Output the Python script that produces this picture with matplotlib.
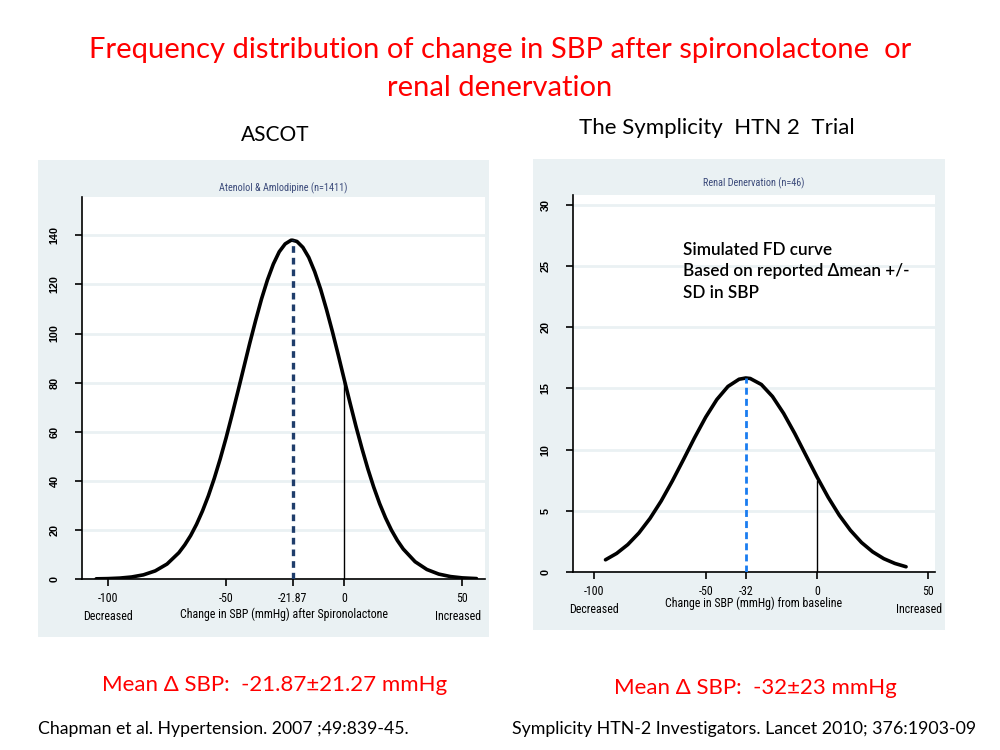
import matplotlib
matplotlib.use("Agg")
import matplotlib.pyplot as plt
from matplotlib import font_manager
from matplotlib.patches import Rectangle

# ASCOT: change in SBP (x) and frequency (y)
ascot_x = [-105, -100, -95, -90, -85, -80, -75, -70, -67.5, -65, -62.5, -60, -57.5, -55, -52.5, -50,
           -47.5, -45, -42.5, -40, -37.5, -35, -32.5, -30, -27.5, -25, -22.5, -21.87, -20, -17.5,
           -15, -12.5, -10, -7.5, -5, -2.5, 0, 2.5, 5, 7.5, 10, 12.5, 15, 17.5, 20, 22.5, 25, 30,
           35, 40, 45, 50, 56]
ascot_y = [0.07, 0.16, 0.37, 0.82, 1.69, 3.3, 6.1, 10.7, 13.9, 17.7, 22.3, 27.7, 33.9, 41.0, 48.9,
           57.5, 66.8, 76.4, 86.2, 96.0, 105.3, 114.1, 121.8, 128.3, 133.3, 136.5, 138.0, 138.0,
           137.5, 135.1, 131.0, 125.2, 118.1, 109.8, 100.8, 91.2, 81.3, 71.6, 62.1, 53.2, 44.9,
           37.4, 30.7, 24.9, 19.9, 15.7, 12.2, 7.05, 3.87, 2.01, 0.99, 0.46, 0.17]
ascot_mean = -21.87
ascot_peak = 138.0
ascot_at_zero = 81.3

# Symplicity HTN-2: simulated curve
htn_x = [-95, -90, -85, -80, -75, -70, -65, -60, -55, -50, -45, -40, -35, -32, -30, -25, -20,
         -15, -10, -5, 0, 5, 10, 15, 20, 25, 30, 35, 40]
htn_y = [1.0, 1.52, 2.24, 3.19, 4.38, 5.8, 7.43, 9.18, 10.97, 12.65, 14.09, 15.16, 15.75, 15.85,
         15.81, 15.32, 14.34, 12.96, 11.32, 9.54, 7.77, 6.11, 4.64, 3.41, 2.41, 1.65, 1.09, 0.7, 0.43]
htn_mean = -32
htn_peak = 15.85
htn_at_zero = 7.4

ascot_xticks = [-100, -50, -21.87, 0, 50]
ascot_xticklabels = ["-100", "-50", "-21.87", "0", "50"]
ascot_yticks = [0, 20, 40, 60, 80, 100, 120, 140]
htn_xticks = [-100, -50, -32, 0, 50]
htn_xticklabels = ["-100", "-50", "-32", "0", "50"]
htn_yticks = [0, 5, 10, 15, 20, 25, 30]

BG = "#eaf1f3"
SLIDE = ["Lato", "DejaVu Sans"]

# stata-like narrow font for the graph texts, whatever is around
names = {f.name for f in font_manager.fontManager.ttflist}
condensed = {f.name for f in font_manager.fontManager.ttflist if f.stretch not in ("normal", 500)}
NARROW_KW = {"family": ["Liberation Sans", "DejaVu Sans"]}
NARROW_SCALE = 0.9
for cand in ["Liberation Sans Narrow", "Arial Narrow", "Roboto Condensed", "Open Sans Condensed",
             "DejaVu Sans Condensed"]:
    if cand in names:
        NARROW_KW = {"family": [cand, "DejaVu Sans"]}
        NARROW_SCALE = 0.95
        break
else:
    if "DejaVu Sans" in condensed:
        NARROW_KW = {"family": ["DejaVu Sans"], "stretch": "condensed"}
        NARROW_SCALE = 0.9

fig = plt.figure(figsize=(10, 7.5), dpi=100)

# grey panel backgrounds behind both graphs
fig.patches.append(Rectangle((0.038, 0.1507), 0.451, 0.636, transform=fig.transFigure,
                             facecolor=BG, edgecolor="none", zorder=-5))
fig.patches.append(Rectangle((0.533, 0.160), 0.412, 0.628, transform=fig.transFigure,
                             facecolor=BG, edgecolor="none", zorder=-5))

fs = 9 * NARROW_SCALE


def style_axes(ax, xticks, xticklabels, yticks):
    ax.set_facecolor("white")
    for s in ["top", "right"]:
        ax.spines[s].set_visible(False)
    ax.spines["left"].set_linewidth(1.2)
    ax.spines["bottom"].set_linewidth(1.2)
    ax.set_xticks(xticks)
    ax.set_xticklabels(xticklabels, fontsize=fs, **NARROW_KW)
    ax.set_yticks(yticks)
    ax.set_yticklabels([str(t) for t in yticks], fontsize=7.8, fontweight="bold",
                       rotation=90, va="center", family=["Liberation Sans", "DejaVu Sans"])
    ax.tick_params(direction="out", length=5, width=1.2, pad=4)
    ax.tick_params(axis="y", pad=11)
    for t in yticks:
        ax.axhline(t, color=BG, lw=2, zorder=0)


# left panel: ASCOT
ax1 = fig.add_axes([0.082, 0.228, 0.403, 0.5093])
ax1.set_xlim(-111, 59.6)
ax1.set_ylim(0, 155.6)
style_axes(ax1, ascot_xticks, ascot_xticklabels, ascot_yticks)
ax1.plot(ascot_x, ascot_y, color="black", lw=2.6, zorder=3, solid_capstyle="round")
ax1.plot([ascot_mean, ascot_mean], [0, ascot_peak], color="#1f3d6b", lw=2.4,
         linestyle=(0, (2, 1.5)), zorder=4)
ax1.plot([0, 0], [0, ascot_at_zero], color="black", lw=1, zorder=2)
ax1.set_title("Atenolol & Amlodipine (n=1411)", fontsize=7.8 * NARROW_SCALE, color="#3b4a7a",
              pad=4, **NARROW_KW)
ax1.text(0.5, -0.092, "Change in SBP (mmHg) after Spironolactone", transform=ax1.transAxes,
         ha="center", va="center", fontsize=fs, **NARROW_KW)
ax1.text(-100, -0.097, "Decreased", transform=ax1.get_xaxis_transform(), ha="center",
         va="center", fontsize=fs, **NARROW_KW)
ax1.text(0.99, -0.097, "Increased", transform=ax1.transAxes, ha="right",
         va="center", fontsize=fs, **NARROW_KW)

# right panel: Symplicity HTN-2
ax2 = fig.add_axes([0.573, 0.2373, 0.362, 0.5027])
ax2.set_xlim(-109.6, 53)
ax2.set_ylim(0, 30.8)
style_axes(ax2, htn_xticks, htn_xticklabels, htn_yticks)
ax2.plot(htn_x, htn_y, color="black", lw=2.6, zorder=3, solid_capstyle="round")
ax2.plot([htn_mean, htn_mean], [0, htn_peak], color="#1a7cf0", lw=2,
         linestyle=(0, (2.5, 1.5)), zorder=4)
ax2.plot([0, 0], [0, htn_at_zero], color="black", lw=1, zorder=2)
ax2.set_title("Renal Denervation (n=46)", fontsize=7.8 * NARROW_SCALE, color="#3b4a7a",
              pad=6, **NARROW_KW)
ax2.text(0.5, -0.082, "Change in SBP (mmHg) from baseline", transform=ax2.transAxes,
         ha="center", va="center", fontsize=fs, **NARROW_KW)
ax2.text(-100, -0.10, "Decreased", transform=ax2.get_xaxis_transform(), ha="center",
         va="center", fontsize=fs, **NARROW_KW)
ax2.text(1.02, -0.10, "Increased", transform=ax2.transAxes, ha="right",
         va="center", fontsize=fs, **NARROW_KW)
ax2.text(0.305, 0.875, "Simulated FD curve\nBased on reported \u0394mean +/-\nSD in SBP",
         transform=ax2.transAxes, ha="left", va="top", fontsize=12.3, family=SLIDE,
         fontweight="semibold", linespacing=1.4)

# slide texts
fig.text(0.5, 0.933, "Frequency distribution of change in SBP after spironolactone  or",
         ha="center", va="center", color="red", fontsize=21, family=SLIDE)
fig.text(0.5, 0.883, "renal denervation", ha="center", va="center", color="red",
         fontsize=21, family=SLIDE)
fig.text(0.275, 0.82, "ASCOT", ha="center", va="center", fontsize=15, family=SLIDE)
fig.text(0.717, 0.83, "The Symplicity  HTN 2  Trial", ha="center", va="center",
         fontsize=16, family=SLIDE)
fig.text(0.275, 0.087, "Mean \u0394 SBP:  -21.87\u00b121.27 mmHg", ha="center", va="center",
         color="red", fontsize=16, family=SLIDE)
fig.text(0.755, 0.083, "Mean \u0394 SBP:  -32\u00b123 mmHg", ha="center", va="center",
         color="red", fontsize=16, family=SLIDE)
fig.text(0.038, 0.028, "Chapman et al. Hypertension. 2007 ;49:839-45.", ha="left",
         va="center", fontsize=12.7, family=SLIDE)
fig.text(0.512, 0.028, "Symplicity HTN-2 Investigators. Lancet 2010; 376:1903-09", ha="left",
         va="center", fontsize=12.8, family=SLIDE)

fig.savefig("out.png", dpi=100)
